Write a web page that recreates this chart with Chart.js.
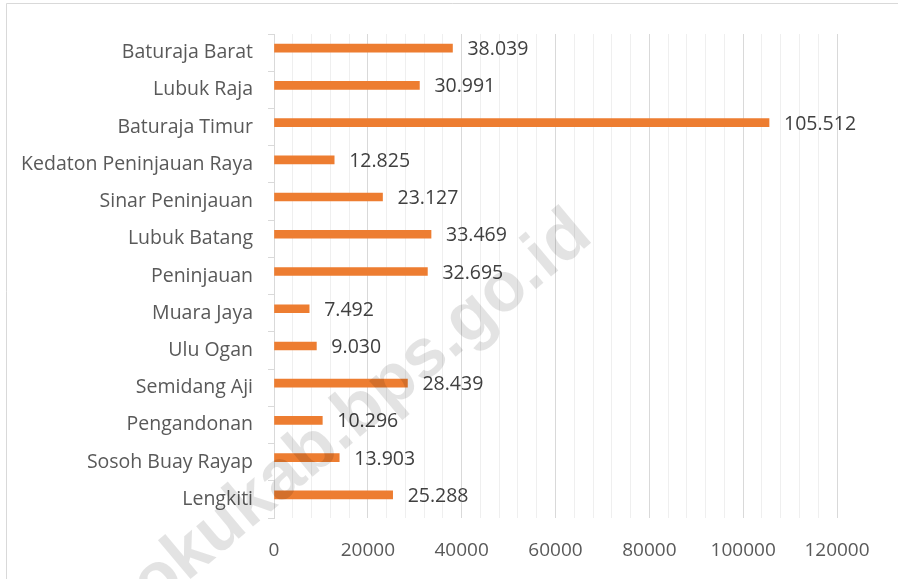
<!DOCTYPE html>
<html>
<head>
<meta charset="utf-8">
<script src="https://cdn.jsdelivr.net/npm/chart.js@4"></script>
<style>
  html, body { margin: 0; padding: 0; background: #fff; }
  #wrap { width: 898px; height: 579px; position: relative; }
</style>
</head>
<body>
<div id="wrap"><canvas id="chart"></canvas></div>
<script>
// kecamatan, top to bottom as in the picture
const categories = [
    'Baturaja Barat', 'Lubuk Raja', 'Baturaja Timur', 'Kedaton Peninjauan Raya',
    'Sinar Peninjauan', 'Lubuk Batang', 'Peninjauan', 'Muara Jaya',
    'Ulu Ogan', 'Semidang Aji', 'Pengandonan', 'Sosoh Buay Rayap', 'Lengkiti'
];
const values = [38039, 30991, 105512, 12825, 23127, 33469, 32695, 7492, 9030, 28439, 10296, 13903, 25288];
const tickLabels = [0, 20000, 40000, 60000, 80000, 100000, 120000];

const FONT = "'Open Sans', sans-serif";
const BAR_SHIFT = -4.5; // excel draws the bar a bit above the band centre

function formatId(n) {
    return String(n).replace(/\B(?=(\d{3})+(?!\d))/g, '.');
}

const frame = {
    id: 'frame',
    beforeDraw(chart) {
        const c = chart.ctx;
        c.save();
        c.fillStyle = '#fff';
        c.fillRect(0, 0, chart.width, chart.height);
        c.strokeStyle = '#d9d9d9';
        c.lineWidth = 1;
        c.beginPath();
        c.moveTo(6.5, chart.height + 2);
        c.lineTo(6.5, 3.5);
        c.lineTo(chart.width + 2, 3.5);
        c.stroke();
        c.restore();
    },
    beforeDatasetsDraw(chart) {
        chart.ctx.save();
        chart.ctx.translate(0, BAR_SHIFT);
    },
    afterDatasetsDraw(chart) {
        chart.ctx.restore();
        const c = chart.ctx;
        const meta = chart.getDatasetMeta(0);
        c.save();
        c.font = '19.5px ' + FONT;
        c.fillStyle = '#404040';
        c.textAlign = 'left';
        c.textBaseline = 'middle';
        meta.data.forEach((bar, i) => {
            c.fillText(formatId(values[i]), bar.x + 15, bar.y + BAR_SHIFT + 1.5);
        });
        c.restore();
    },
    afterDraw(chart) {
        // watermark
        const c = chart.ctx;
        c.save();
        c.translate(362, 410);
        c.rotate(-40 * Math.PI / 180);
        c.font = "bold 70px 'Liberation Sans', sans-serif";
        c.fillStyle = 'rgba(0,0,0,0.11)';
        c.textAlign = 'center';
        c.textBaseline = 'middle';
        c.fillText('okukab.bps.go.id', 0, 0);
        c.restore();
    }
};

new Chart(document.getElementById('chart'), {
    type: 'bar',
    data: {
        labels: categories,
        datasets: [{
            data: values,
            backgroundColor: '#ED7D31',
            barThickness: 8
        }]
    },
    plugins: [frame],
    options: {
        indexAxis: 'y',
        responsive: true,
        maintainAspectRatio: false,
        animation: false,
        layout: { padding: { top: 34, right: 61, left: 0, bottom: 0 } },
        plugins: { legend: { display: false }, tooltip: { enabled: false } },
        scales: {
            x: {
                min: 0,
                max: 120000,
                afterFit(scale) { scale.height = 61; },
                afterBuildTicks(scale) {
                    // minor lines every 4000, labels only on the 20000 steps
                    const t = [];
                    for (let v = 0; v <= 120000; v += 4000) t.push({ value: v });
                    scale.ticks = t;
                },
                ticks: {
                    autoSkip: false,
                    maxRotation: 0,
                    padding: 21,
                    color: '#595959',
                    font: { family: FONT, size: 19 },
                    callback: v => tickLabels.includes(v) ? String(v) : ''
                },
                grid: {
                    drawTicks: false,
                    color: ctx => (ctx.tick && ctx.tick.value % 20000 === 0) ? '#d9d9d9' : '#efefef'
                },
                border: { display: false }
            },
            y: {
                afterFit(scale) { scale.width = 274; },
                ticks: {
                    padding: 15,
                    color: '#595959',
                    font: { family: FONT, size: 19.5 }
                },
                grid: {
                    drawOnChartArea: false,
                    tickLength: 6,
                    color: '#d9d9d9'
                },
                border: { color: '#d9d9d9' }
            }
        }
    }
});
</script>
</body>
</html>
